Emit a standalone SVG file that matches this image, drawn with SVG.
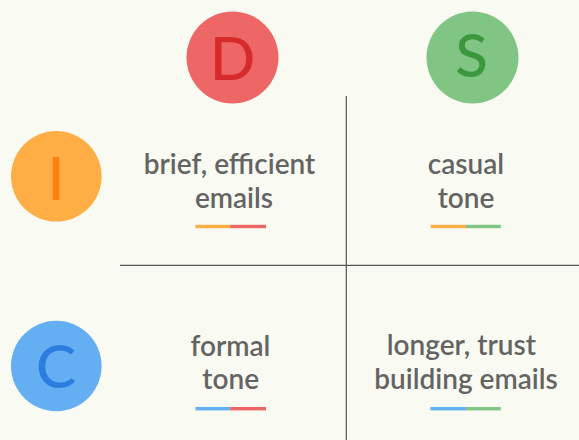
<svg xmlns="http://www.w3.org/2000/svg" width="579" height="440" viewBox="0 0 579 440">
<style>
.lbl{font-family:Lato,"Open Sans",sans-serif;font-size:28px;font-weight:600;fill:#646464;text-anchor:middle}
.big{font-family:Lato,"Open Sans",sans-serif;font-size:60px;font-weight:500;text-anchor:middle}
.grid{stroke:#555;stroke-width:1.2;fill:none}
</style>
<rect width="579" height="440" fill="#f9fbf2"/>
<g id="connectors">
<line class="grid" x1="346.3" y1="96" x2="346.3" y2="440"/>
<line class="grid" x1="120" y1="265.3" x2="579" y2="265.3"/>
</g>
<g id="D"><circle cx="232.5" cy="57.5" r="46" fill="#ee6767"/><text class="big" x="232.5" y="80" fill="#d62b2b">D</text></g>
<g id="S"><circle cx="472.5" cy="57.5" r="46" fill="#80c583"/><text class="big" x="471.5" y="77" fill="#3d983d">S</text></g>
<g id="I"><circle cx="56.3" cy="176.3" r="45.3" fill="#ffae45"/><text class="big" x="56" y="200" fill="#ff7f11">I</text></g>
<g id="C"><circle cx="56.3" cy="366" r="45.3" fill="#64aef2"/><text class="big" x="56" y="387.5" fill="#2b7ee0">C</text></g>
<g id="DI">
<text class="lbl" x="229.5" y="174">brief, efficient</text>
<text class="lbl" x="234" y="208">emails</text>
<rect x="195.5" y="224.8" width="34.7" height="3.4" fill="#ffae45"/>
<rect x="230.2" y="224.8" width="35.8" height="3.4" fill="#ee6565"/>
</g>
<g id="SI">
<text class="lbl" x="466" y="174">casual</text>
<text class="lbl" x="466" y="208">tone</text>
<rect x="430.7" y="224.8" width="35.3" height="3.4" fill="#ffae45"/>
<rect x="466" y="224.8" width="34.8" height="3.4" fill="#80c583"/>
</g>
<g id="DC">
<text class="lbl" x="230.4" y="355.5">formal</text>
<text class="lbl" x="230.7" y="389">tone</text>
<rect x="195.5" y="407" width="34.7" height="3.4" fill="#64aef2"/>
<rect x="230.2" y="407" width="35.8" height="3.4" fill="#ee6565"/>
</g>
<g id="SC">
<text class="lbl" x="461.3" y="355">longer, trust</text>
<text class="lbl" x="466" y="389">building emails</text>
<rect x="430.3" y="407" width="35.7" height="3.4" fill="#64aef2"/>
<rect x="466" y="407" width="34.8" height="3.4" fill="#80c583"/>
</g>
</svg>
